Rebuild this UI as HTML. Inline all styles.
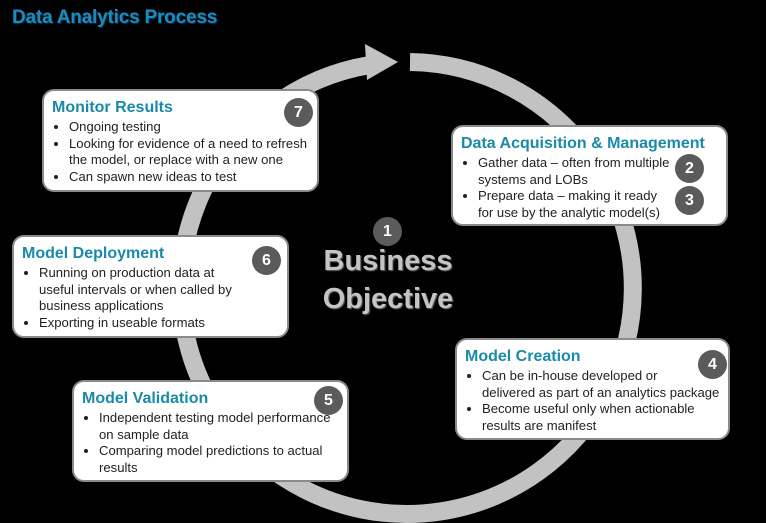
<!DOCTYPE html>
<html><head><style>
body{margin:0;width:766px;height:523px;background:#000;position:relative;overflow:hidden;font-family:"Liberation Sans",sans-serif}
.t{position:absolute;left:12px;top:7px;font-size:19px;font-weight:bold;color:#1b8cbf;text-shadow:1px 1px 1px #0a3a55;letter-spacing:-0.2px}
.b{position:absolute;background:#fff;border:2px solid #8a8a8a;border-radius:12px;box-sizing:border-box;padding:8px 8px 6px 8px;white-space:nowrap}
.b h3{margin:0 0 2px 0;font-size:16px;color:#1a8aa8;font-weight:bold}
.b ul{margin:0;padding:0 0 0 17px;font-size:13.1px;color:#222;line-height:16.5px}
.b li{margin-bottom:0px}
.n{position:absolute;width:29px;height:29px;border-radius:50%;background:#5b5b5b;color:#fff;font-weight:bold;font-size:16px;text-align:center;line-height:29px}
.bo{position:absolute;left:268px;top:242px;width:240px;text-align:center;color:#c4c4c4;font-weight:bold;font-size:29px;line-height:38px;text-shadow:1px 1px 1px #666}
</style></head><body>
<svg width="766" height="523" style="position:absolute;left:0;top:0">
<path d="M410 62 A226 226 0 1 1 370 65" fill="none" stroke="#c2c2c2" stroke-width="18"/>
<polygon points="365,44 398,62 367,80" fill="#c2c2c2"/>
</svg>
<div class="t">Data Analytics Process</div>
<div class="b" style="left:42px;top:89px;width:277px;height:103px"><h3>Monitor Results</h3><ul><li>Ongoing testing</li><li>Looking for evidence of a need to refresh<br>the model, or replace with a new one</li><li>Can spawn new ideas to test</li></ul></div>
<div class="b" style="left:451px;top:125px;width:277px;height:101px"><h3>Data Acquisition &amp; Management</h3><ul><li>Gather data – often from multiple<br>systems and LOBs</li><li>Prepare data – making it ready<br>for use by the analytic model(s)</li></ul></div>
<div class="b" style="left:12px;top:235px;width:277px;height:103px"><h3>Model Deployment</h3><ul><li>Running on production data at<br>useful intervals or when called by<br>business applications</li><li>Exporting in useable formats</li></ul></div>
<div class="b" style="left:455px;top:338px;width:275px;height:102px"><h3>Model Creation</h3><ul><li>Can be in-house developed or<br>delivered as part of an analytics package</li><li>Become useful only when actionable<br>results are manifest</li></ul></div>
<div class="b" style="left:72px;top:380px;width:277px;height:102px"><h3>Model Validation</h3><ul><li>Independent testing model performance<br>on sample data</li><li>Comparing model predictions to actual<br>results</li></ul></div>
<div class="n" style="left:284px;top:98px">7</div>
<div class="n" style="left:675px;top:154px">2</div>
<div class="n" style="left:675px;top:186px">3</div>
<div class="n" style="left:252px;top:246px">6</div>
<div class="n" style="left:698px;top:350px">4</div>
<div class="n" style="left:314px;top:386px">5</div>
<div class="n" style="left:373px;top:217px">1</div>
<div class="bo">Business<br>Objective</div>
</body></html>
